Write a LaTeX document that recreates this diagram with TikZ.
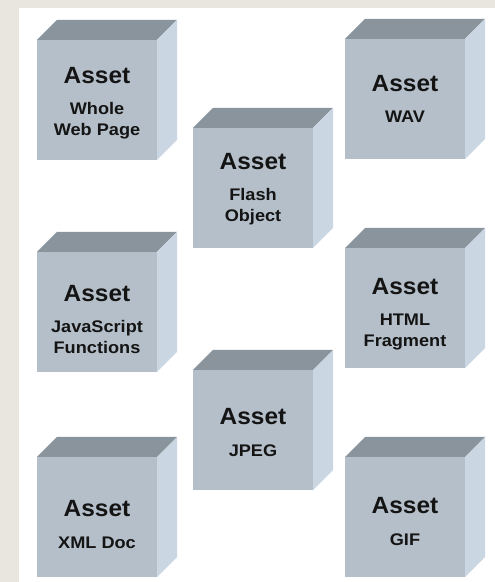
\documentclass[tikz,border=0pt]{standalone}
\usepackage{fontspec}
\setmainfont{Liberation Sans}
\newfontfamily\assetfont{Liberation Sans}[FakeStretch=1.04]
\newfontfamily\subfont{Liberation Sans}[FakeStretch=1.08]
\definecolor{bgbeige}{RGB}{233,229,223}
\definecolor{frontc}{RGB}{181,191,201}
\definecolor{topc}{RGB}{138,148,156}
\definecolor{sidec}{RGB}{202,214,225}
\definecolor{txtc}{RGB}{20,20,20}
\tikzset{
  frontface/.style={fill=frontc, draw=none, minimum width=120pt, minimum height=120pt, inner sep=0pt, outer sep=0pt, anchor=north west},
  assetlbl/.style={inner sep=0pt, text height=17pt, text depth=0pt, font=\assetfont\bfseries\fontsize{23.5}{24}\selectfont, text=txtc},
  sublbl/.style={inner sep=0pt, text height=12pt, text depth=0pt, font=\subfont\bfseries\fontsize{16.8}{18}\selectfont, text=txtc},
}
% #1 name, #2 x0, #3 y0 (image, from top), #4 Asset offset from top of front, #5 line1, #6 line2
\newcommand\mkassetcube[6]{%
  \node[frontface] (#1) at (#2,{582-#3}) {};
  \fill[topc] (#1.north west) -- ++(20,20) -- ++(120,0) -- (#1.north east) -- cycle;
  \fill[sidec] (#1.north east) -- ++(20,20) -- ++(0,-120) -- (#1.south east) -- cycle;
  \node[assetlbl] (#1a) at ([yshift=-#4pt]#1.north) {Asset};
  \node[sublbl] (#1b) at ([yshift=-34pt]#1a.center) {#5};
  \if\relax\detokenize{#6}\relax\else
  \node[sublbl] (#1c) at ([yshift=-20.5pt]#1b.center) {#6};
  \fi
}
\begin{document}
\begin{tikzpicture}[x=1pt,y=1pt]
\fill[bgbeige] (0,0) rectangle (495,582);
\fill[white] (19,0) rectangle (495,574);
\useasboundingbox (0,0) rectangle (495,582);
\mkassetcube{wwp}{37}{40}{35}{Whole}{Web Page}
\mkassetcube{wav}{345}{39}{44}{WAV}{}
\mkassetcube{flash}{193}{128}{33}{Flash}{Object}
\mkassetcube{js}{37}{252}{41}{JavaScript}{Functions}
\mkassetcube{html}{345}{248}{38}{HTML}{Fragment}
\mkassetcube{jpeg}{193}{370}{46.5}{JPEG}{}
\mkassetcube{xml}{37}{457}{51.5}{XML Doc}{}
\mkassetcube{gif}{345}{457}{48}{GIF}{}
\end{tikzpicture}
\end{document}
